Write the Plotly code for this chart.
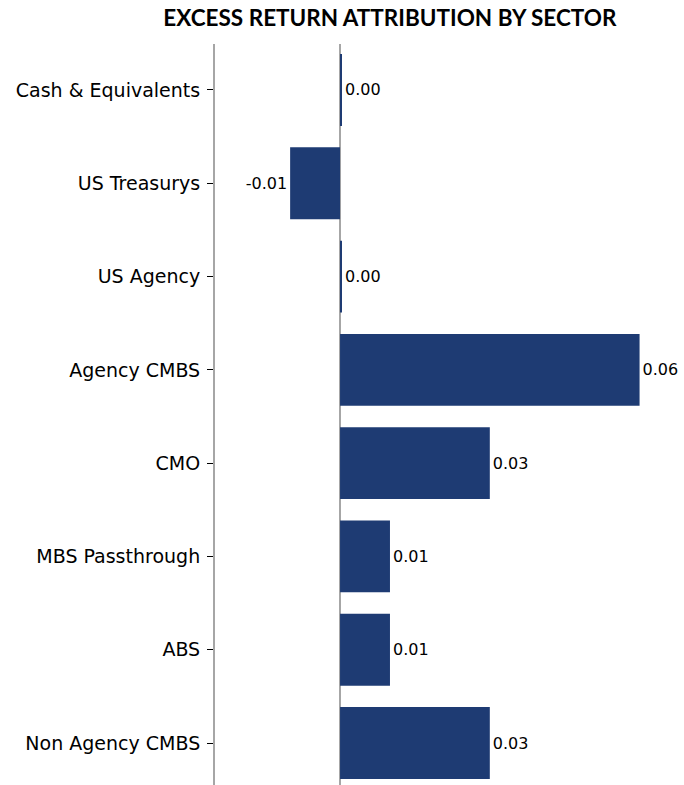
import plotly.graph_objects as go

categories = ["Cash & Equivalents", "US Treasurys", "US Agency", "Agency CMBS",
              "CMO", "MBS Passthrough", "ABS", "Non Agency CMBS"]
values = [0.0002, -0.01, 0.0002, 0.06, 0.03, 0.01, 0.01, 0.03]
value_labels = ["0.00", "-0.01", "0.00", "0.06", "0.03", "0.01", "0.01", "0.03"]

fig = go.Figure(go.Bar(
    x=values, y=categories, orientation="h",
    marker=dict(color="#1E3B73", line=dict(width=0)),
    width=0.77,
    text=value_labels, textposition="outside",
    textfont=dict(family="DejaVu Sans", size=16, color="#000000"),
    cliponaxis=False,
))

fig.update_layout(
    width=684, height=785,
    margin=dict(l=215, r=0, t=44, b=0),
    paper_bgcolor="white", plot_bgcolor="white",
    showlegend=False,
    title=dict(text="<b>EXCESS RETURN ATTRIBUTION BY SECTOR</b>",
               x=0.570, xanchor="center", y=0.977, yanchor="middle",
               font=dict(family="Lato", size=22.5, color="#000000")),
    xaxis=dict(range=[-0.02505, 0.0689], showgrid=False, showticklabels=False,
               ticks="", zeroline=True, zerolinecolor="#A6A6A6", zerolinewidth=2,
               showline=False),
    yaxis=dict(categoryorder="array", categoryarray=categories,
               range=[7.45, -0.493], showgrid=False,
               showline=True, linecolor="#A6A6A6", linewidth=2,
               ticks="outside", ticklen=6, tickcolor="#000000", tickwidth=1,
               ticklabelstandoff=3,
               tickfont=dict(family="DejaVu Sans", size=19, color="#000000")),
)

# remove the browser's default 8px body margin so the figure fills the window
fig.write_html(
    "out.html",
    config={"displayModeBar": False},
    post_script="document.body.style.margin='0px';document.body.style.overflow='hidden';",
)
